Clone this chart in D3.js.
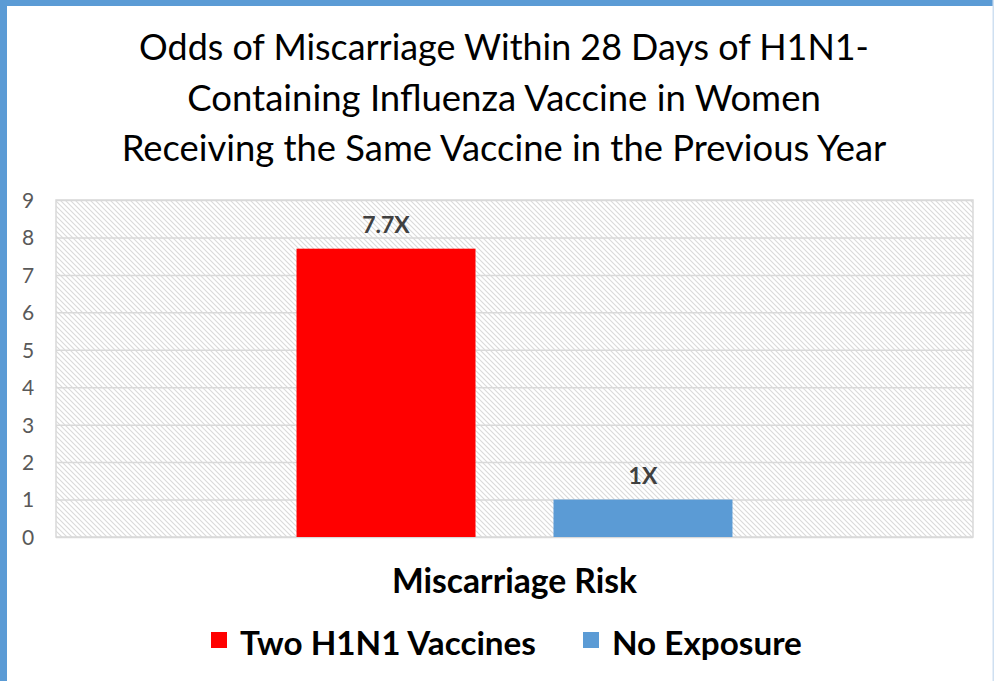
<!DOCTYPE html>
<html lang="en">
<head>
<meta charset="utf-8">
<title>Odds of Miscarriage Within 28 Days of H1N1-Containing Influenza Vaccine</title>
<script src="https://d3js.org/d3.v7.min.js"></script>
<style>
  body { margin: 0; background: #fff; }
  svg { display: block; font-family: Lato, "Open Sans", sans-serif; }
</style>
</head>
<body>
<svg id="chart" width="994" height="681"></svg>
<script>
// data
var titleLines = ["Odds of Miscarriage Within 28 Days of H1N1-",
                  "Containing Influenza Vaccine in Women",
                  "Receiving the Same Vaccine in the Previous Year"];
var category = "Miscarriage Risk";
var seriesNames = ["Two H1N1 Vaccines", "No Exposure"];
var seriesValues = [7.7, 1];
var valueLabels = ["7.7X", "1X"];
var seriesColors = ["#ff0000", "#5b9bd5"];
var yTicks = [0, 1, 2, 3, 4, 5, 6, 7, 8, 9];

var width = 994, height = 681;
var plot = {left: 56, top: 200, right: 973, bottom: 537};

var svg = d3.select("#chart");

// shrink/grow a text to a target width
function fit(sel, w) {
  var len = sel.node().getComputedTextLength();
  var fs = parseFloat(sel.attr("font-size"));
  sel.attr("font-size", fs * w / len);
}

// blue frame (left and top)
svg.append("rect").attr("x", 0).attr("y", 0).attr("width", width).attr("height", height).attr("fill", "#fff");
svg.append("rect").attr("x", 0).attr("y", 0).attr("width", 7).attr("height", height).attr("fill", "#5b9bd5");
svg.append("rect").attr("x", 0).attr("y", 0).attr("width", width).attr("height", 6).attr("fill", "#5b9bd5");
svg.append("rect").attr("x", width - 1.5).attr("y", 0).attr("width", 1.5).attr("height", height).attr("fill", "#cfe0f1");

// hatch pattern for the plot area
var defs = svg.append("defs");
var pat = defs.append("pattern")
  .attr("id", "hatch")
  .attr("patternUnits", "userSpaceOnUse")
  .attr("width", 5).attr("height", 5);
pat.append("rect").attr("width", 5).attr("height", 5).attr("fill", "#fff");
pat.append("path")
  .attr("d", "M-1,-1 L6,6 M-1,4 L1,6 M4,-1 L6,1")
  .attr("stroke", "#dadada").attr("stroke-width", 1.1);

// scales
var x0 = d3.scaleBand().domain([category]).range([plot.left, plot.right]);
var x1 = d3.scaleBand().domain(seriesNames).range([0, x0.bandwidth()])
  .paddingInner(0.3035).paddingOuter(0.936);
var y = d3.scaleLinear().domain([0, 9]).range([plot.bottom, plot.top]);

// plot area
svg.append("rect")
  .attr("x", plot.left).attr("y", plot.top)
  .attr("width", plot.right - plot.left).attr("height", plot.bottom - plot.top)
  .attr("fill", "url(#hatch)")
  .attr("stroke", "#d9d9d9").attr("stroke-width", 1.5);

// gridlines + y axis labels
var yAxis = svg.append("g")
  .attr("transform", "translate(" + plot.left + ",0)")
  .call(d3.axisLeft(y).tickValues(yTicks).tickSize(-(plot.right - plot.left)).tickPadding(14));
yAxis.select(".domain").remove();
yAxis.selectAll(".tick line").attr("stroke", "#d9d9d9").attr("stroke-width", 1.5);
yAxis.selectAll(".tick text")
  .attr("fill", "#595959")
  .style("font-size", "21px")
  .style("font-family", "Lato, sans-serif")
  .attr("text-anchor", "middle")
  .attr("x", -28)
  .attr("dy", "0.35em");

// bars
var bars = seriesNames.map(function(s, i) {
  return {name: s, value: seriesValues[i], label: valueLabels[i], color: seriesColors[i]};
});
var g = svg.append("g").attr("transform", "translate(" + x0(category) + ",0)");
g.selectAll("rect.bar")
  .data(bars)
  .enter()
  .append("rect")
    .attr("class", "bar")
    .attr("x", function(d) { return x1(d.name); })
    .attr("y", function(d) { return y(d.value); })
    .attr("width", x1.bandwidth())
    .attr("height", function(d) { return y(0) - y(d.value); })
    .attr("fill", function(d) { return d.color; });

g.selectAll("text.val")
  .data(bars)
  .enter()
  .append("text")
    .attr("class", "val")
    .attr("x", function(d) { return x1(d.name) + x1.bandwidth() / 2; })
    .attr("y", function(d) { return y(d.value) - 16; })
    .attr("text-anchor", "middle")
    .attr("font-size", 23)
    .attr("font-weight", "bold")
    .attr("fill", "#404040")
    .text(function(d) { return d.label; });

// title
var titleWidths = [730, 634, 765];
var titleBase = [60, 111, 161];
titleLines.forEach(function(t, i) {
  var tt = svg.append("text")
    .attr("x", 504)
    .attr("y", titleBase[i])
    .attr("text-anchor", "middle")
    .attr("font-size", 32)
    .attr("fill", "#000")
    .text(t);
  fit(tt, titleWidths[i]);
});

// axis title
var at = svg.append("text")
  .attr("x", (plot.left + plot.right) / 2)
  .attr("y", 593)
  .attr("text-anchor", "middle")
  .attr("font-size", 26)
  .attr("font-weight", "bold")
  .attr("fill", "#000")
  .text(category);
fit(at, 245);

// legend
var legendX = [211, 583];
var legendW = [296, 190];
var leg = svg.append("g");
bars.forEach(function(d, i) {
  leg.append("rect")
    .attr("x", legendX[i]).attr("y", 632)
    .attr("width", 16).attr("height", 16)
    .attr("fill", d.color);
  var lt = leg.append("text")
    .attr("x", legendX[i] + 29)
    .attr("y", 655)
    .attr("font-size", 27)
    .attr("font-weight", "bold")
    .attr("fill", "#000")
    .text(d.name);
  fit(lt, legendW[i]);
});
</script>
</body>
</html>
